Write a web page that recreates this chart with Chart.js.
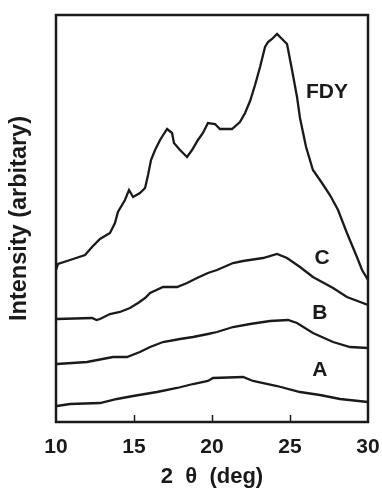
<!DOCTYPE html>
<html><head><meta charset="utf-8">
<script src="https://cdn.jsdelivr.net/npm/chart.js@4/dist/chart.umd.min.js"></script>
<style>html,body{margin:0;padding:0;background:#fff;}</style>
</head><body>
<canvas id="c" width="382" height="491"></canvas>
<script>
// ---- data (2θ in deg, intensity in arbitrary units) ----
const fdyX = [10.0,10.13,10.9,11.86,12.31,12.82,13.46,13.78,13.97,14.42,14.68,14.94,15.38,15.71,15.9,16.09,16.35,16.67,17.12,17.44,17.56,17.95,18.4,18.72,19.1,19.42,19.74,20.19,20.51,21.28,21.79,22.12,22.44,22.76,23.08,23.4,23.59,23.85,24.17,24.49,24.81,25.13,25.45,25.64,26.03,26.47,27.05,27.56,28.08,28.65,29.29,29.62,30.0];
const fdyY = [152,158,162,167,175,183,189,199,210,222,232,225,229,234,247,262,272,282,293,289,279,272,265,272,282,289,299,298,293,293,300,309,321,337,355,375,380,383,388,383,378,352,325,304,275,252,239,227,212,189,165,152,142];
const cX = [10.06,12.31,12.6,12.82,13.46,14.1,14.74,15.26,15.71,16.03,16.86,17.76,18.4,19.04,19.74,20.32,21.35,21.99,23.27,24.17,24.81,25.64,26.47,27.76,28.65,30.0];
const cY = [103,104,102,103,108,110,114,119,124,129,135,135,139,144,149,152,159,161,164,168,164,155,145,134,125,117];
const bX = [10.06,11.99,13.65,14.55,15.38,16.03,16.86,17.95,18.78,19.74,20.32,21.35,22.44,23.72,24.87,25.45,26.47,27.76,28.85,30.0];
const bY = [58,60,65,65,70,75,80,83,85,88,90,95,98,101,102,99,89,80,75,74];
const aX = [10.06,10.9,12.82,13.91,14.94,16.47,17.76,18.78,19.74,20.06,21.99,22.63,24.17,25.64,26.92,28.21,30.0];
const aY = [16,18,19,23,26,30,34,38,41,44,45,41,36,30,27,23,20];
const xTicks = [10,15,20,25,30];
const seriesNames = ['FDY','C','B','A'];

// ---- build ----
const toPts = (xs, ys) => xs.map((x, i) => ({x, y: ys[i]}));
const series = [toPts(fdyX, fdyY), toPts(cX, cY), toPts(bX, bY), toPts(aX, aY)];
const labelAt = [{x:27.37,y:330},{x:27.05,y:164},{x:26.92,y:109},{x:26.92,y:52}];
const INK = '#1a1a1a';
const FONT = '"Liberation Sans", Arial, sans-serif';

const framePlugin = {
  id: 'frame',
  afterDatasetsDraw(chart) {
    const {ctx, chartArea: a, scales} = chart;
    ctx.save();
    ctx.strokeStyle = INK;
    ctx.lineWidth = 1.5;
    xTicks.slice(1, -1).forEach(v => {
      const px = Math.round(scales.x.getPixelForValue(v)) + 0.5;
      ctx.beginPath(); ctx.moveTo(px, a.bottom); ctx.lineTo(px, a.bottom - 7); ctx.stroke();
    });
    ctx.lineWidth = 2.5;
    ctx.strokeRect(a.left, a.top, a.right - a.left, a.bottom - a.top);
    ctx.fillStyle = INK;
    ctx.font = 'bold 21px ' + FONT;
    ctx.textAlign = 'center';
    ctx.textBaseline = 'middle';
    seriesNames.forEach((n, i) => {
      ctx.fillText(n, scales.x.getPixelForValue(labelAt[i].x), scales.y.getPixelForValue(labelAt[i].y));
    });
    ctx.restore();
  }
};

new Chart(document.getElementById('c'), {
  type: 'line',
  data: {
    datasets: series.map((pts, i) => ({
      label: seriesNames[i], data: pts,
      borderColor: INK, borderWidth: 2.3, pointRadius: 0, tension: 0, fill: false
    }))
  },
  options: {
    responsive: false, animation: false, devicePixelRatio: 1,
    layout: {padding: {top: 15, right: 14, left: 0, bottom: 0}},
    plugins: {legend: {display: false}, tooltip: {enabled: false}},
    scales: {
      x: {
        type: 'linear', min: 10, max: 30,
        afterBuildTicks: s => { s.ticks = xTicks.map(v => ({value: v})); },
        afterFit: s => { s.height = 69; s.paddingLeft = 0; s.paddingRight = 0; },
        grid: {display: false, drawTicks: false}, border: {display: false},
        ticks: {color: INK, font: {family: FONT, size: 21, weight: 'bold'}, padding: 13, maxRotation: 0},
        title: {display: true, text: '2  θ  (deg)', color: INK, font: {family: FONT, size: 22, weight: 'bold'}, padding: {top: 0, bottom: 1}}
      },
      y: {
        min: 0, max: 407,
        afterFit: s => { s.width = 56; s.paddingTop = 0; s.paddingBottom = 0; },
        grid: {display: false, drawTicks: false}, border: {display: false},
        ticks: {display: false},
        title: {display: true, text: 'Intensity (arbitary)', color: INK, font: {family: FONT, size: 23.5, weight: 'bold'}, padding: {top: 5, bottom: 0}}
      }
    }
  },
  plugins: [framePlugin]
});
</script>
</body></html>
